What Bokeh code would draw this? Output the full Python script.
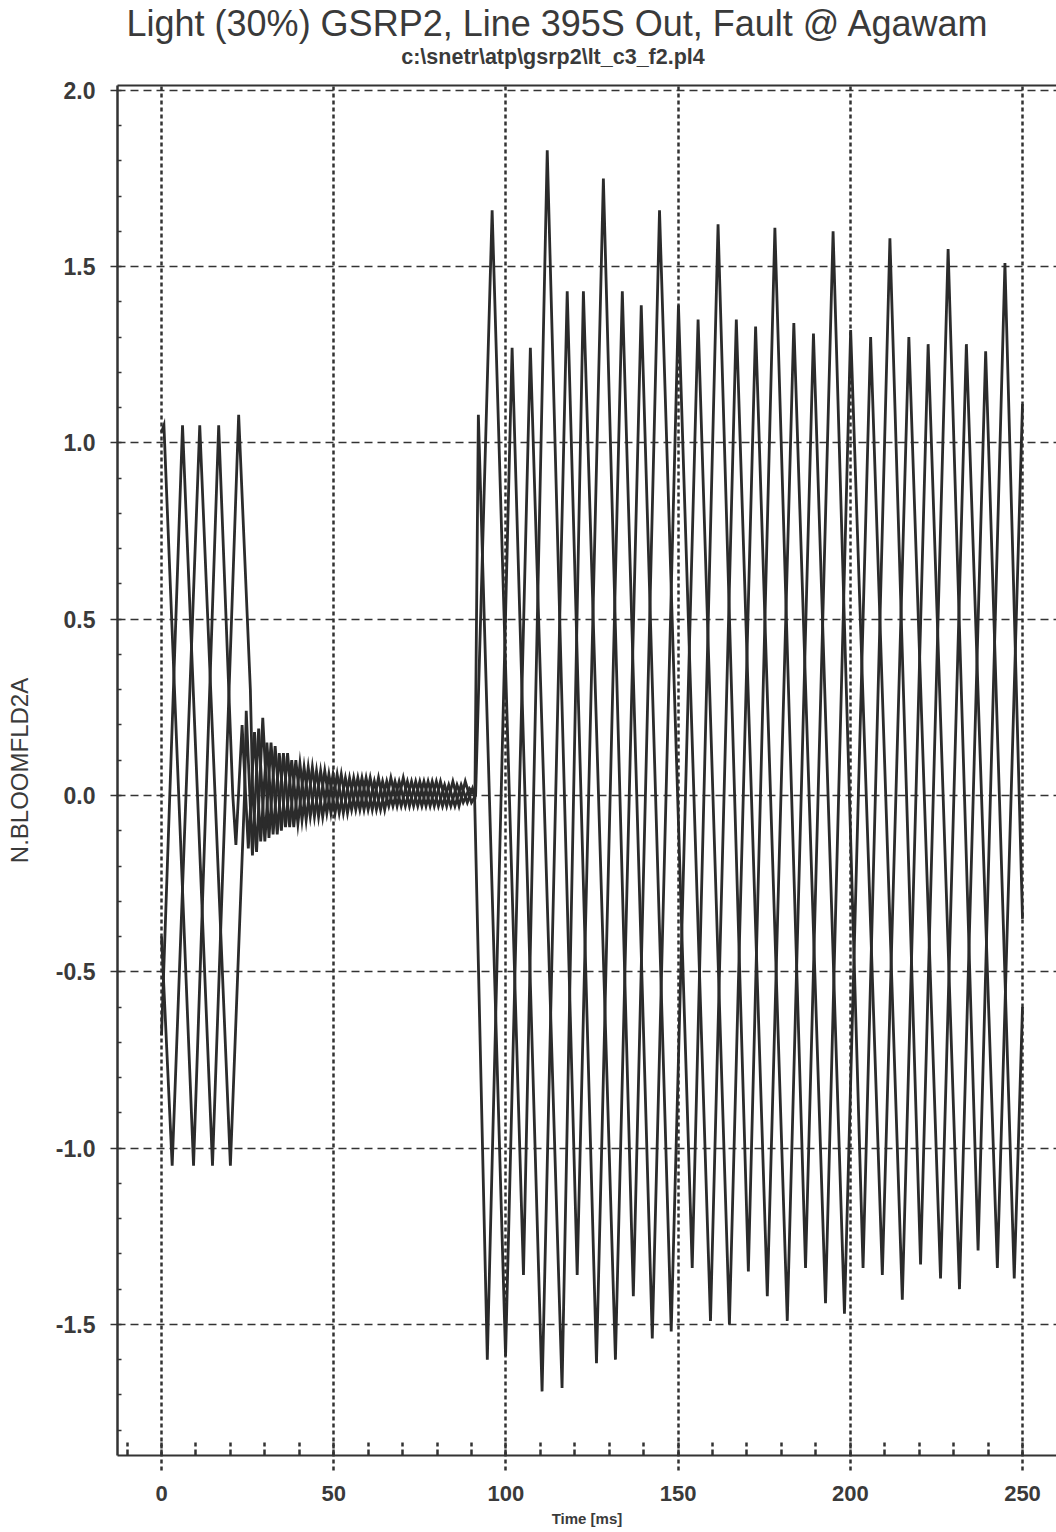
from bokeh.plotting import figure
from bokeh.layouts import column
from bokeh.models import (Range1d, LinearAxis, SingleIntervalTicker, FixedTicker,
                          PrintfTickFormatter, Label)
from bokeh.embed import file_html
from bokeh.resources import INLINE

# ---------------- data (time in ms, value in pu) ----------------
# Phase 1: pre-fault, de-energised ringing, post-fault
a_pre_t = [0.0, 0.7, 9.3, 16.6, 20.7]
a_pre_v = [1.03, 1.05, -1.05, 1.05, 0.0]
a_sq_t = [21.6, 23.4, 25.2, 27.0, 28.8, 30.6, 32.4, 34.2, 36.0, 37.8, 39.6, 41.4, 43.2,
          45.0, 46.8, 48.6, 50.4, 52.2, 54.0, 55.8, 57.6, 59.4, 61.2, 63.0, 64.8, 66.6,
          68.4, 70.2, 72.0, 73.8, 75.6, 77.4, 79.2, 81.0, 82.8, 84.6, 86.4, 88.2, 90.0]
a_sq_v = [-0.14, 0.20, -0.15, 0.18, -0.13, 0.15, -0.11, 0.12, -0.09, 0.10, -0.08, 0.08, -0.06,
          0.07, -0.06, 0.06, -0.05, 0.06, -0.05, 0.05, -0.04, 0.05, -0.04, 0.05, -0.04, 0.05,
          -0.03, 0.05, -0.03, 0.04, -0.03, 0.04, -0.03, 0.04, -0.03, 0.04, -0.03, 0.04, -0.02]
a_post_t = [91.2, 96.0, 105.1, 112.0, 120.7, 128.3, 137.0, 144.6, 154.1, 161.6, 170.4,
            178.1, 187.0, 195.0, 203.7, 211.5, 220.4, 228.4, 237.1, 244.9, 250.0]
a_post_v = [0.0, 1.66, -1.36, 1.83, -1.36, 1.75, -1.42, 1.66, -1.34, 1.62, -1.35,
            1.61, -1.34, 1.60, -1.34, 1.58, -1.33, 1.55, -1.29, 1.51, -0.35]

# Phase 2
b_pre_t = [0.0, 6.1, 14.8, 22.4, 25.8, 26.5]
b_pre_v = [-0.68, 1.05, -1.05, 1.08, 0.30, 0.0]
b_sq_t = [27.6, 29.4, 31.2, 33.0, 34.8, 36.6, 38.4, 40.2, 42.0, 43.8, 45.6, 47.4, 49.2,
          51.0, 52.8, 54.6, 56.4, 58.2, 60.0, 61.8, 63.6, 65.4, 67.2, 69.0, 70.8, 72.6,
          74.4, 76.2, 78.0, 79.8, 81.6, 83.4, 85.2, 87.0, 88.8, 90.3]
b_sq_v = [-0.16, 0.22, -0.12, 0.14, -0.10, 0.12, -0.09, 0.09, -0.07, 0.08, -0.06, 0.07, -0.05,
          0.06, -0.05, 0.05, -0.04, 0.05, -0.04, 0.04, -0.04, 0.04, -0.03, 0.04, -0.03, 0.04,
          -0.03, 0.04, -0.03, 0.04, -0.03, 0.03, -0.03, 0.03, -0.02, 0.02]
b_post_t = [90.9, 94.6, 101.8, 110.5, 117.8, 126.3, 133.8, 142.5, 150.1, 159.4, 166.9,
            175.9, 183.6, 192.8, 200.1, 209.3, 217.0, 226.2, 233.7, 242.7, 250.0]
b_post_v = [0.0, -1.60, 1.27, -1.69, 1.43, -1.61, 1.43, -1.54, 1.39, -1.49, 1.35,
            -1.42, 1.34, -1.44, 1.32, -1.36, 1.30, -1.37, 1.28, -1.34, 1.11]

# Phase 3
c_pre_t = [0.0, 3.1, 11.1, 20.0, 24.1]
c_pre_v = [-0.40, -1.05, 1.05, -1.05, 0.0]
c_sq_t = [24.6, 26.4, 28.2, 30.0, 31.8, 33.6, 35.4, 37.2, 39.0, 40.8, 42.6, 44.4, 46.2,
          48.0, 49.8, 51.6, 53.4, 55.2, 57.0, 58.8, 60.6, 62.4, 64.2, 66.0, 67.8, 69.6,
          71.4, 73.2, 75.0, 76.8, 78.6, 80.4, 82.2, 84.0, 85.8, 87.6, 89.4]
c_sq_v = [0.24, -0.17, 0.19, -0.13, 0.15, -0.11, 0.12, -0.09, 0.10, -0.07, 0.08, -0.06, 0.07,
          -0.05, 0.06, -0.05, 0.05, -0.04, 0.05, -0.04, 0.05, -0.04, 0.04, -0.03, 0.04, -0.03,
          0.04, -0.03, 0.04, -0.03, 0.04, -0.03, 0.03, -0.03, 0.03, -0.02, 0.02]
c_post_t = [91.0, 92.0, 99.9, 107.1, 116.3, 122.5, 131.8, 139.3, 148.0, 155.8, 164.9,
            172.5, 181.7, 189.3, 198.3, 205.9, 215.1, 222.6, 231.7, 239.3, 247.6, 250.0]
c_post_v = [0.0, 1.08, -1.59, 1.27, -1.68, 1.43, -1.60, 1.39, -1.52, 1.35, -1.50,
            1.33, -1.49, 1.31, -1.47, 1.30, -1.43, 1.28, -1.40, 1.26, -1.37, -0.60]

title_text = "Light (30%) GSRP2, Line 395S Out, Fault @ Agawam"
subtitle_text = "c:\\snetr\\atp\\gsrp2\\lt_c3_f2.pl4"
y_label = "N.BLOOMFLD2A"
x_label = "Time [ms]"

INK = "#333333"
TXT = "#3a3a3a"
FONT = "Liberation Sans"

# ---------------- header (title + file name); frame aligned with the plot frame ----------------
HEAD_H = 72
head = figure(width=1056, height=HEAD_H, output_backend="svg", toolbar_location=None,
              title=None, x_range=Range1d(117, 1056), y_range=Range1d(HEAD_H, 0),
              x_axis_type=None, y_axis_type=None,
              min_border_left=0, min_border_right=0, min_border_top=0, min_border_bottom=0)
head.outline_line_color = None
head.grid.visible = False
head.background_fill_color = "white"
head.border_fill_color = "white"
head.add_layout(Label(x=557.5, y=23, text=title_text, text_font=FONT, text_font_size="36px",
                      text_color=TXT, text_align="center", text_baseline="alphabetic"))
head.add_layout(Label(x=552.5, y=56, text=subtitle_text, text_font=FONT,
                      text_font_size="21.5px", text_font_style="bold", text_color=TXT,
                      text_align="center", text_baseline="alphabetic"))

# ---------------- main plot ----------------
p = figure(width=1056, height=1532 - HEAD_H, output_backend="svg", toolbar_location=None,
           title=None, x_range=Range1d(-12.78, 259.87), y_range=Range1d(-1.8718, 2.0136),
           min_border_left=117, min_border_right=0, min_border_top=85 - HEAD_H,
           min_border_bottom=77)
p.outline_line_color = None
p.background_fill_color = "white"
p.border_fill_color = "white"

xa = p.xaxis[0]
xa.ticker = SingleIntervalTicker(interval=50, num_minor_ticks=5)
xa.axis_label = x_label
xa.axis_label_text_font = FONT
xa.axis_label_text_font_size = "15px"
xa.axis_label_text_font_style = "bold"
xa.axis_label_text_color = TXT
xa.axis_label_standoff = 6
xa.major_label_text_font = FONT
xa.major_label_text_font_size = "22px"
xa.major_label_text_font_style = "bold"
xa.major_label_text_color = TXT
xa.major_label_standoff = 15
xa.axis_line_color = INK
xa.axis_line_width = 2
xa.major_tick_in = 0
xa.major_tick_out = 15
xa.major_tick_line_width = 2.5
xa.major_tick_line_dash = "4 3"
xa.major_tick_line_color = INK
xa.minor_tick_in = 13
xa.minor_tick_out = 0
xa.minor_tick_line_width = 2.5
xa.minor_tick_line_dash = "6 3"
xa.minor_tick_line_color = INK

ya = p.yaxis[0]
ya.ticker = SingleIntervalTicker(interval=0.5, num_minor_ticks=5)
ya.formatter = PrintfTickFormatter(format="%.1f")
ya.axis_label = y_label
ya.axis_label_text_font = FONT
ya.axis_label_text_font_size = "24px"
ya.axis_label_text_font_style = "normal"
ya.axis_label_text_color = TXT
ya.axis_label_standoff = 20
ya.major_label_text_font = FONT
ya.major_label_text_font_size = "23px"
ya.major_label_text_font_style = "bold"
ya.major_label_text_color = TXT
ya.major_label_standoff = 15
ya.axis_line_color = INK
ya.axis_line_width = 2.5
ya.major_tick_in = 0
ya.major_tick_out = 7
ya.major_tick_line_width = 1.6
ya.major_tick_line_color = INK
ya.minor_tick_in = 4
ya.minor_tick_out = 0
ya.minor_tick_line_width = 1.5
ya.minor_tick_line_color = INK

top = LinearAxis(ticker=FixedTicker(ticks=[]), major_label_text_font_size="0px",
                 axis_line_color=INK, axis_line_width=2,
                 major_tick_out=0, major_tick_in=0, minor_tick_out=0, minor_tick_in=0)
p.add_layout(top, "above")

p.xgrid.grid_line_color = INK
p.xgrid.grid_line_width = 2.5
p.xgrid.grid_line_dash = "4 3"
p.ygrid.grid_line_color = INK
p.ygrid.grid_line_width = 1.6
p.ygrid.grid_line_dash = "8 5"

for pre_t, pre_v, sq_t, sq_v, post_t, post_v in [
        (a_pre_t, a_pre_v, a_sq_t, a_sq_v, a_post_t, a_post_v),
        (b_pre_t, b_pre_v, b_sq_t, b_sq_v, b_post_t, b_post_v),
        (c_pre_t, c_pre_v, c_sq_t, c_sq_v, c_post_t, c_post_v)]:
    t = pre_t + sq_t + post_t
    v = pre_v + sq_v + post_v
    p.line(t, v, line_color="#2b2b2b", line_width=2.8, line_join="miter")

layout = column(head, p, spacing=0)
open("out.html", "w").write(file_html(layout, INLINE))
